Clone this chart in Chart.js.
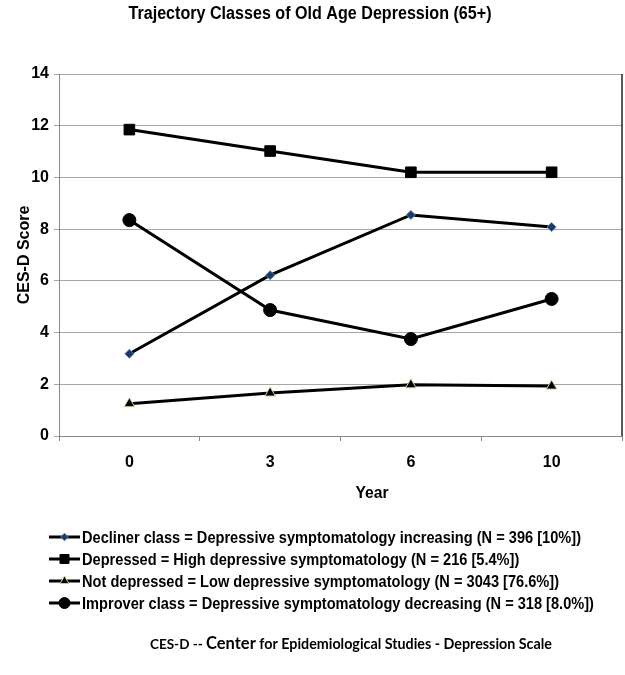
<!DOCTYPE html>
<html>
<head>
<meta charset="utf-8">
<script src="https://cdn.jsdelivr.net/npm/chart.js@4.4.0/dist/chart.umd.min.js"></script>
<style>
  html, body { margin: 0; padding: 0; background: #fff; overflow: hidden; }
  #wrap { width: 625px; height: 675px; }
  canvas { display: block; }
</style>
</head>
<body>
<div id="wrap"><canvas id="chart" width="625" height="675"></canvas></div>
<script>
// data
const years = ["0", "3", "6", "10"];
const decliner = [3.18, 6.22, 8.55, 8.08];
const depressed = [11.85, 11.02, 10.2, 10.2];
const notDepressed = [1.25, 1.66, 1.98, 1.93];
const improver = [8.35, 4.87, 3.75, 5.3];
const seriesNames = [
  "Decliner class = Depressive symptomatology increasing (N = 396 [10%])",
  "Depressed = High depressive symptomatology (N = 216 [5.4%])",
  "Not depressed = Low depressive symptomatology (N = 3043 [76.6%])",
  "Improver class = Depressive symptomatology decreasing (N = 318 [8.0%])",
];
const yMin = 0, yMax = 14, yStep = 2;
const chartTitle = "Trajectory Classes of Old Age Depression (65+)";

const FONT = "'Liberation Sans', Arial, sans-serif";
const NOTE_FONT = "Lato, 'Open Sans', sans-serif";

// the original uses a narrow bold face; squeeze Liberation Sans sideways
function narrowText(ctx, text, x, y, font, squeeze, align) {
  ctx.save();
  ctx.font = font;
  const w = ctx.measureText(text).width * squeeze;
  let left = x;
  if (align === "center") left = x - w / 2;
  ctx.translate(left, y);
  ctx.scale(squeeze, 1);
  ctx.textAlign = "left";
  ctx.fillText(text, 0, 0);
  ctx.restore();
}

const extras = {
  id: "extras",
  afterDraw(chart) {
    const ctx = chart.ctx;
    const area = chart.chartArea;
    ctx.save();
    ctx.fillStyle = "#000";
    ctx.textBaseline = "middle";

    // title
    ctx.font = "bold 18px " + FONT;
    const tSqueeze = 363 / ctx.measureText(chartTitle).width;
    narrowText(ctx, chartTitle, 310, 14, "bold 18px " + FONT, tSqueeze, "center");

    // plot border on the right
    ctx.strokeStyle = "#222";
    ctx.lineWidth = 1.5;
    ctx.beginPath();
    ctx.moveTo(area.right, area.top);
    ctx.lineTo(area.right, area.bottom);
    ctx.stroke();

    // x axis title
    narrowText(ctx, "Year", 372, 493, "bold 17px " + FONT, 0.92, "center");

    // legend, one row per series
    const legFont = "bold 17px " + FONT;
    ctx.font = legFont;
    const lSqueeze = 499 / ctx.measureText(seriesNames[0]).width;
    chart.data.datasets.forEach((ds, i) => {
      const y = 537 + i * 22;
      ctx.strokeStyle = "#000";
      ctx.lineWidth = 3;
      ctx.beginPath();
      ctx.moveTo(49, y);
      ctx.lineTo(80, y);
      ctx.stroke();
      ctx.fillStyle = ds.pointBackgroundColor;
      ctx.strokeStyle = ds.pointBorderColor;
      ctx.lineWidth = ds.pointBorderWidth;
      Chart.helpers.drawPoint(ctx, {
        pointStyle: ds.pointStyle,
        radius: ds.pointRadius * 0.85,
        borderWidth: ds.pointBorderWidth,
      }, 64.5, y);
      ctx.fillStyle = "#000";
      narrowText(ctx, ds.label, 82, y + 1, legFont, lSqueeze, "left");
    });

    // footer note, "Center" bigger
    const parts = [
      ["CES-D -- ", "bold 13.5px " + NOTE_FONT],
      ["Center", "bold 16.5px " + NOTE_FONT],
      [" for Epidemiological Studies - Depression Scale", "bold 14.3px " + NOTE_FONT],
    ];
    let x = 150;
    ctx.textBaseline = "alphabetic";
    ctx.textAlign = "left";
    ctx.fillStyle = "#000";
    parts.forEach(([t, f]) => {
      ctx.font = f;
      ctx.fillText(t, x, 649);
      x += ctx.measureText(t).width;
    });

    ctx.restore();
  },
};

new Chart(document.getElementById("chart"), {
  type: "line",
  data: {
    labels: years,
    datasets: [
      {
        label: seriesNames[0],
        data: decliner,
        borderColor: "#000",
        borderWidth: 3,
        pointStyle: "rectRot",
        pointRadius: 4.5,
        pointBackgroundColor: "#1f3864",
        pointBorderColor: "#4f81bd",
        pointBorderWidth: 1,
      },
      {
        label: seriesNames[1],
        data: depressed,
        borderColor: "#000",
        borderWidth: 3,
        pointStyle: "rect",
        pointRadius: 7.5,
        pointBackgroundColor: "#000",
        pointBorderColor: "#000",
        pointBorderWidth: 1,
      },
      {
        label: seriesNames[2],
        data: notDepressed,
        borderColor: "#000",
        borderWidth: 3,
        pointStyle: "triangle",
        pointRadius: 6,
        pointBackgroundColor: "#000",
        pointBorderColor: "#c3d69b",
        pointBorderWidth: 1,
      },
      {
        label: seriesNames[3],
        data: improver,
        borderColor: "#000",
        borderWidth: 3,
        pointStyle: "circle",
        pointRadius: 6.5,
        pointBackgroundColor: "#000",
        pointBorderColor: "#000",
        pointBorderWidth: 1,
      },
    ],
  },
  options: {
    responsive: false,
    animation: false,
    devicePixelRatio: 1,
    layout: { autoPadding: false, padding: { left: 0, right: 3, top: 74, bottom: 203 } },
    plugins: {
      legend: { display: false },
      tooltip: { enabled: false },
      title: { display: false },
    },
    scales: {
      x: {
        offset: true,
        afterFit: (s) => { s.height = 36; s.paddingLeft = 0; s.paddingRight = 0; },
        grid: { offset: true, drawOnChartArea: false, drawTicks: true, tickLength: 5, color: "#888" },
        border: { color: "#888" },
        ticks: { color: "#000", padding: 12, font: { family: FONT, size: 16, weight: "bold" } },
      },
      y: {
        min: yMin,
        max: yMax,
        afterFit: (s) => { s.width = 59; },
        grid: { color: "#a6a6a6", tickLength: 5 },
        border: { color: "#888" },
        ticks: { stepSize: yStep, color: "#000", padding: 5, font: { family: FONT, size: 16, weight: "bold" } },
        title: {
          display: true,
          text: "CES-D Score",
          color: "#000",
          padding: { top: 15, bottom: 0 },
          font: { family: FONT, size: 16, weight: "bold" },
        },
      },
    },
  },
  plugins: [extras],
});
</script>
</body>
</html>
